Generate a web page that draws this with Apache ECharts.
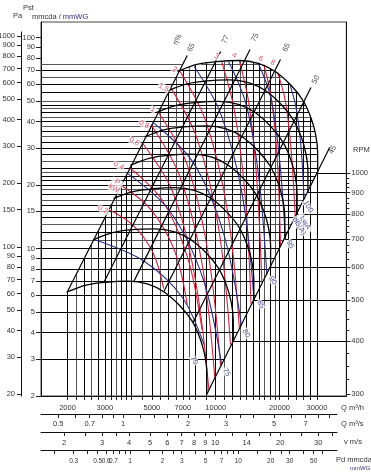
<!DOCTYPE html>
<html><head><meta charset="utf-8">
<script src="https://cdn.jsdelivr.net/npm/echarts/dist/echarts.min.js"></script>
<style>html,body{margin:0;padding:0;background:#fff}#c{width:371px;height:474px}</style>
</head><body><div id="c"></div>
<script>
const L = Math.log10;
const FONT = '"Liberation Sans Narrow", "Arial Narrow", "Liberation Sans", Arial, sans-serif';
const FS = 7.5;

// ---------- axis values ----------
const qLabelsMain = [2000,3000,5000,7000,10000,20000,30000];
const qGrid = [2000,2200,2400,2600,2800,3000,3200,3400,3600,3800,4000,4500,5000,5500,6000,6500,7000,7500,8000,9000,10000,11000,12000,13000,14000,15000,16000,17000,18000,19000,20000,22000,24000,26000,28000,30000];
const pGrid = [3,4,5,6,7,8,9,10,11,12,13,14,15,16,17,18,19,20,21,22,23,24,26,28,30,32,34,36,38,40,42,44,46,48,50,55,60,65,70,75];
const mmLabels = [2,3,4,5,6,7,8,9,10,15,20,30,40,50,60,70,80,90,100];
const paLabels = [20,30,40,50,60,70,80,90,100,150,200,300,400,500,600,700,800,900,1000];
const rpmLabels = [300,400,500,600,700,800,900,1000];
const rpmMinor = [325,350,375,425,450,475,525,550,575,625,650,675,725,750,775,825,850,875,925,950,975];
const qsTicks = [0.5,0.6,0.7,0.8,0.9,1,1.2,1.4,1.6,1.8,2,2.5,3,3.5,4,5,6,7,8,9];
const qsLabels = [0.5,0.7,1,2,3,5,7];
const vTicks = [2,2.5,3,3.5,4,5,6,7,8,9,10,12,14,16,18,20,25,30,35];
const vLabels = [2,3,4,5,6,7,8,9,10,14,20,30];
const pdTicks = [0.2,0.3,0.4,0.5,0.6,0.7,0.8,0.9,1,1.5,2,2.5,3,4,5,6,7,8,9,10,15,20,25,30,40,50,60];
const pdLabels = [0.3,0.5,0.6,0.7,1,2,3,5,7,10,20,30,50];

// ---------- fan curves (Q m3/h, Pst mmWG) ----------
const rpm1000 = [[6600,69.0],[8160,74.5],[10100,76.9],[12900,77.8],[16000,75.3],[19100,69.0],[22700,59.2],[25800,50.3],[28100,41.8],[29600,34.7],[30250,28.5],[30250,22.7]];
const rpm900 = [[5940,55.9],[7344,60.3],[9090,62.3],[11610,63.0],[14400,61.0],[17190,55.9],[20430,48.0],[23220,40.7],[25290,33.9],[26640,28.1],[27225,23.1],[27225,18.4]];
const rpm800 = [[5280,44.2],[6528,47.7],[8080,49.2],[10320,49.8],[12800,48.2],[15280,44.2],[18160,37.9],[20640,32.2],[22480,26.8],[23680,22.2],[24200,18.2],[24200,14.5]];
const rpm700 = [[4620,33.8],[5712,36.5],[7070,37.7],[9030,38.1],[11200,36.9],[13370,33.8],[15890,29.0],[18060,24.6],[19670,20.5],[20720,17.0],[21175,14.0],[21175,11.1]];
const rpm600 = [[3960,24.8],[4896,26.8],[6060,27.7],[7740,28.0],[9600,27.1],[11460,24.8],[13620,21.3],[15480,18.1],[16860,15.0],[17760,12.5],[18150,10.3],[18150,8.17]];
const rpm500 = [[3300,17.25],[4080,18.6],[5050,19.2],[6450,19.45],[8000,18.8],[9550,17.25],[11350,14.8],[12900,12.6],[14050,10.45],[14800,8.68],[15125,7.13],[15125,5.68]];
const rpm400 = [[2640,11.0],[3264,11.9],[4040,12.3],[5160,12.4],[6400,12.0],[7640,11.0],[9080,9.47],[10320,8.05],[11240,6.69],[11840,5.55],[12100,4.56],[12100,3.63]];
const rpm300 = [[1980,6.21],[2448,6.71],[3030,6.92],[3870,7.0],[4800,6.78],[5730,6.21],[6810,5.33],[7740,4.53],[8430,3.76],[8880,3.12],[9075,2.57],[9075,2.04]];
const rpmCurves = [rpm1000,rpm900,rpm800,rpm700,rpm600,rpm500,rpm400,rpm300];

// ---------- efficiency lines ----------
const effNames = ['65','77','75','65','50','45'];
const effFrom = [[2000,6.25],[2966,6.9],[4100,6.95],[5690,6.24],[7820,4.46],[9075,2.04]];
const effTo = [[7340,82.2],[10550,85.8],[14520,87.7],[20200,78.6],[28130,57.9],[34450,30.1]];
const effLabelAt = [[7662,89.7],[11120,97.8],[15330,100],[21560,89.7],[29680,63.2],[35560,29.4]];
const etaTitleAt = [6600,97.8];

// ---------- power curves (kW) ----------
const kwNames = ['0,2','P\nkW','0,4','0,6','0,8','1','1,5','2','3','4','6','8'];
const kw02 = [[3130,15.3],[4085,12.85],[5056,9.57],[5684,6.46]];
const kw03 = [[3594,19.9],[4950,15.3],[6392,9.78],[7342,5.43]];
const kw04 = [[3914,24.2],[5566,17.07],[7342,9.17],[8616,4.13]];
const kw06 = [[4497,31.8],[6258,18.63],[7998,7.21],[9284,2.15]];
const kw08 = [[4950,38.7],[6746,22.2],[8616,8.49],[9896,2.45]];
const kw1 = [[5334,44.6],[7266,25.6],[9183,9.68],[10550,2.79]];
const kw15 = [[6126,57.9],[8168,33.2],[10330,12.44],[11740,3.51]];
const kw2 = [[6746,69.8],[8992,40.0],[11370,15.0],[12920,4.22]];
const kw3 = [[10660,76.9],[12250,45.1],[13770,17.8],[14680,5.43]];
const kw4 = [[12920,77.8],[14370,48.1],[15650,20.55],[16510,6.90]];
const kw6 = [[16860,74.5],[18370,50.3],[19580,25.0],[20210,10.2]];
const kw8 = [[19580,68.3],[21320,49.7],[22730,28.5],[23720,14.0]];
const kwCurves = [kw02,kw03,kw04,kw06,kw08,kw1,kw15,kw2,kw3,kw4,kw6,kw8];
const kwLabelAt = [[2936,15.3],[3372,19.9],[3490,24.7],[4128,32.1],[4590,38.7],[5056,45.6],[5684,57.9],[6392,70.5],[10100,81.3],[12250,82.2],[16320,79.5],[18570,76.1]];

// ---------- sound power curves LwA dB(A) ----------
const dbNames = ['70','75','80','85','90','95','100'];
const db70 = [[2667,11.03],[4544,8.77],[6962,5.86],[8802,3.51]];
const db75 = [[3792,22.9],[6059,15.1],[8709,7.21],[10660,2.82]];
const db80 = [[5056,39.6],[7828,25.6],[10890,11.8],[13200,4.36]];
const db85 = [[7913,72.9],[10550,43.6],[13340,18.0],[15160,5.73]];
const db90 = [[11490,76.9],[13920,48.1],[15990,21.5],[17420,7.53]];
const db95 = [[15820,76.1],[18170,52.0],[20000,26.4],[21320,11.0]];
const db100 = [[22480,59.2],[23980,46.1],[25290,29.8],[26100,17.1]];
const dbCurves = [db70,db75,db80,db85,db90,db95,db100];
const dbLabelAt = [[7913,2.95],[11250,2.59],[13920,3.96],[16320,5.43],[18570,7.05],[22480,10.45],[27290,15.8]];
const dbTitleAt = [25570,13.0];

// ---------- scales (log10 of values on linear axes) ----------
const X0 = L(1500), X1 = X0 + 311/216;
const Y0 = L(2), Y1 = Y0 + 374/211;
const XB1 = X0 + 296/216;
const PREF = rpm1000[rpm1000.length-1][1];
const toXY = d => [L(d[0]), L(d[1])];
const fmt = v => String(+(Math.pow(10, v)).toPrecision(3));

function onLine(a, b, p) {
  const t = (L(p) - L(a[1])) / (L(b[1]) - L(a[1]));
  return Math.pow(10, L(a[0]) + t * (L(b[0]) - L(a[0])));
}
function pOnLineAtQ(a, b, q) {
  const t = (L(q) - L(a[0])) / (L(b[0]) - L(a[0]));
  return Math.pow(10, L(a[1]) + t * (L(b[1]) - L(a[1])));
}
function pTop(q) {
  const top = rpm1000;
  if (q <= top[0][0]) return pOnLineAtQ(effFrom[0], effTo[0], q);
  for (let i = 0; i < top.length - 2; i++) {
    const a = top[i], b = top[i+1];
    if (q >= a[0] && q <= b[0] && b[0] > a[0]) return pOnLineAtQ(a, b, q);
  }
  return top[top.length-2][1];
}
function crossing(i0, i1, p) {
  const top = rpm1000;
  for (let i = i0; i < i1; i++) {
    const a = top[i], b = top[i+1];
    if ((a[1]-p)*(b[1]-p) <= 0 && a[1] !== b[1]) return onLine(a, b, p);
  }
  return null;
}
function hSegs(p) {
  const top = rpm1000, qmin = Math.pow(10, X0);
  let peak = 0; top.forEach((d,i) => { if (d[1] > top[peak][1]) peak = i; });
  if (p <= PREF) return [[qmin, onLine(effFrom[5], effTo[5], p)]];
  const qR = crossing(peak, top.length-1, p);
  if (p <= top[0][1]) return [[qmin, qR]];
  const segs = [[qmin, onLine(effFrom[0], effTo[0], p)]];
  const qRise = crossing(0, peak, p);
  if (qRise && qR) segs.push([qRise, qR]);
  return segs;
}

const isLightP = p => [75,65,50,46,42,38,34,26,23,19,17,13,11].includes(p);
const hDark = [], hLight = [];
pGrid.forEach(p => hSegs(p).forEach(s => (isLightP(p) ? hLight : hDark).push({coords: [[L(s[0]), L(p)], [L(s[1]), L(p)]]})));
const vDark = [], vLight = [];
qGrid.forEach(q => ([2200,2600,3400,4500,5500,6500,7500,11000,13000,17000,19000].includes(q) ? vLight : vDark).push({coords: [[L(q), Y0], [L(q), L(pTop(q))]]}));
const rpmLevel = rpmCurves.slice(0, 7).map(c => { const e = c[c.length-1]; return {coords: [[L(e[0]), L(e[1])], [X1, L(e[1])]]}; });
const effData = effFrom.map((a, i) => ({coords: [toXY(a), toXY(effTo[i])]}));

function linesSeries(data, color, width, z) {
  return {type:'lines', coordinateSystem:'cartesian2d', xAxisIndex:0, yAxisIndex:0, data,
    lineStyle:{color, width, opacity:1, curveness:0}, silent:true, z, animation:false};
}
function curveSeries(c, color, width, z) {
  return {type:'line', xAxisIndex:0, yAxisIndex:0, data: c.map(toXY), showSymbol:false, smooth:0.35,
    lineStyle:{color, width}, silent:true, z, animation:false};
}
function labelSeries(pts, texts, rot, color, bg, size) {
  return {type:'scatter', xAxisIndex:0, yAxisIndex:0, symbolSize:1, itemStyle:{color:'rgba(0,0,0,0)'},
    silent:true, z:20, animation:false,
    data: pts.map((d, i) => ({value: toXY(d), label: {formatter: texts[i]}})),
    label: {show:true, position:'inside', rotate: rot, color, fontFamily: FONT, fontSize: size || FS,
      lineHeight: 7, backgroundColor: bg || 'transparent', padding: bg ? [0,1] : 0}};
}

const RED = '#d0223f', BLUE = '#2e2e86', TXT = '#333';
const series = [
  linesSeries(hLight, '#555', 1, 1),
  linesSeries(vLight, '#555', 1, 1),
  linesSeries(hDark, '#000', 1, 2),
  linesSeries(vDark, '#000', 1, 2),
  linesSeries(rpmLevel, '#000', 1, 2),
  ...kwCurves.map(c => curveSeries(c, RED, 1.1, 4)),
  ...dbCurves.map(c => curveSeries(c, BLUE, 1.1, 4)),
  ...rpmCurves.map(c => curveSeries(c, '#000', 1.3, 6)),
  linesSeries(effData, '#000', 1.2, 6),
  labelSeries(effLabelAt, effNames, 63, '#111'),
  labelSeries([etaTitleAt], ['η%'], 63, '#111'),
  labelSeries(kwLabelAt, kwNames, -28, RED, '#fff'),
  labelSeries(dbLabelAt, dbNames, -60, BLUE, '#fff'),
  labelSeries([dbTitleAt], ['LwA\ndB(A)'], -60, BLUE, '#fff')
];

const lab = (vals, fmtr, extra) => Object.assign({customValues: vals.map(L), formatter: fmtr || fmt, fontFamily: FONT, fontSize: FS, color: TXT}, extra || {});
const tick = (vals, len) => ({show:true, customValues: vals.map(L), length: len, lineStyle:{color:'#222', width:1}});
const axLine = {show:true, lineStyle:{color:'#111', width:1}};
const F = FS + 'px ' + FONT;

const option = {
  animation: false,
  backgroundColor: '#fff',
  grid: [
    {left:41, top:22, width:311, height:374, show:true, borderColor:'#444', borderWidth:1},
    {left:20, top:32, width:1, height:364},
    {left:41, top:404, width:296, height:10},
    {left:41, top:422, width:296, height:10},
    {left:41, top:440, width:296, height:10}
  ],
  xAxis: [
    {gridIndex:0, type:'value', min:X0, max:X1, axisLine:axLine, splitLine:{show:false},
      axisTick: tick(qGrid, 4), axisLabel: lab(qLabelsMain, null, {margin:8})},
    {gridIndex:1, type:'value', min:0, max:1, show:false},
    {gridIndex:2, type:'value', min:X0-L(3600), max:XB1-L(3600), axisLine:axLine, splitLine:{show:false},
      axisTick: tick(qsTicks, 4), axisLabel: lab(qsLabels, null, {margin:6})},
    {gridIndex:3, type:'value', min:X0-L(960), max:XB1-L(960), axisLine:axLine, splitLine:{show:false},
      axisTick: tick(vTicks, 4), axisLabel: lab(vLabels, null, {margin:7})},
    {gridIndex:4, type:'value', min:L(0.0612)+2*(X0-L(960)), max:L(0.0612)+2*(XB1-L(960)), axisLine:axLine, splitLine:{show:false},
      axisTick: tick(pdTicks, 4), axisLabel: lab(pdLabels, null, {margin:8, fontSize:6.5})}
  ],
  yAxis: [
    {gridIndex:0, type:'value', position:'left', min:Y0, max:Y1, axisLine:axLine, splitLine:{show:false},
      axisTick: tick(mmLabels, 5), axisLabel: lab(mmLabels, null, {margin:6})},
    {gridIndex:0, type:'value', position:'right', min:3+0.5*(Y0-L(PREF)), max:3+0.5*(Y1-L(PREF)), axisLine:axLine, splitLine:{show:false},
      axisTick: tick(rpmLabels, 4), axisLabel: lab(rpmLabels, null, {margin:5})},
    {gridIndex:0, type:'value', position:'right', min:3+0.5*(Y0-L(PREF)), max:3+0.5*(Y1-L(PREF)), axisLine:{show:false}, splitLine:{show:false},
      axisTick: tick(rpmMinor, 3), axisLabel:{show:false}},
    {gridIndex:1, type:'value', position:'left', min:L(2*9.81), max:L(2*9.81)+364/211, axisLine:axLine, splitLine:{show:false},
      axisTick: tick(paLabels, 4), axisLabel: lab(paLabels, null, {margin:6})},
    {gridIndex:2, type:'value', show:false},
    {gridIndex:3, type:'value', show:false},
    {gridIndex:4, type:'value', show:false}
  ],
  graphic: [
    {type:'text', left:23, top:4, style:{text:'Pst', font:F, fill:TXT}},
    {type:'text', left:13, top:12, style:{text:'Pa', font:F, fill:TXT}},
    {type:'text', left:32, top:13, style:{text:'{a|mmcda / }{b|mmWG}', font:F,
      rich:{a:{fill:TXT, font:F}, b:{fill:BLUE, font:F}}}},
    {type:'text', left:353, top:146, style:{text:'RPM', font:F, fill:TXT}},
    {type:'text', left:341, top:404, style:{text:'Q m³/h', font:F, fill:TXT}},
    {type:'text', left:341, top:420, style:{text:'Q m³/s', font:F, fill:TXT}},
    {type:'text', left:344, top:438, style:{text:'v m/s', font:F, fill:TXT}},
    {type:'text', left:336, top:456, style:{text:'Pd mmcda', font:F, fill:TXT}},
    {type:'text', left:350, top:465, style:{text:'mmWG', font:'6px ' + FONT, fill:BLUE}}
  ],
  series
};
const chart = echarts.init(document.getElementById('c'), null, {renderer:'canvas'});
chart.setOption(option);
</script></body></html>
